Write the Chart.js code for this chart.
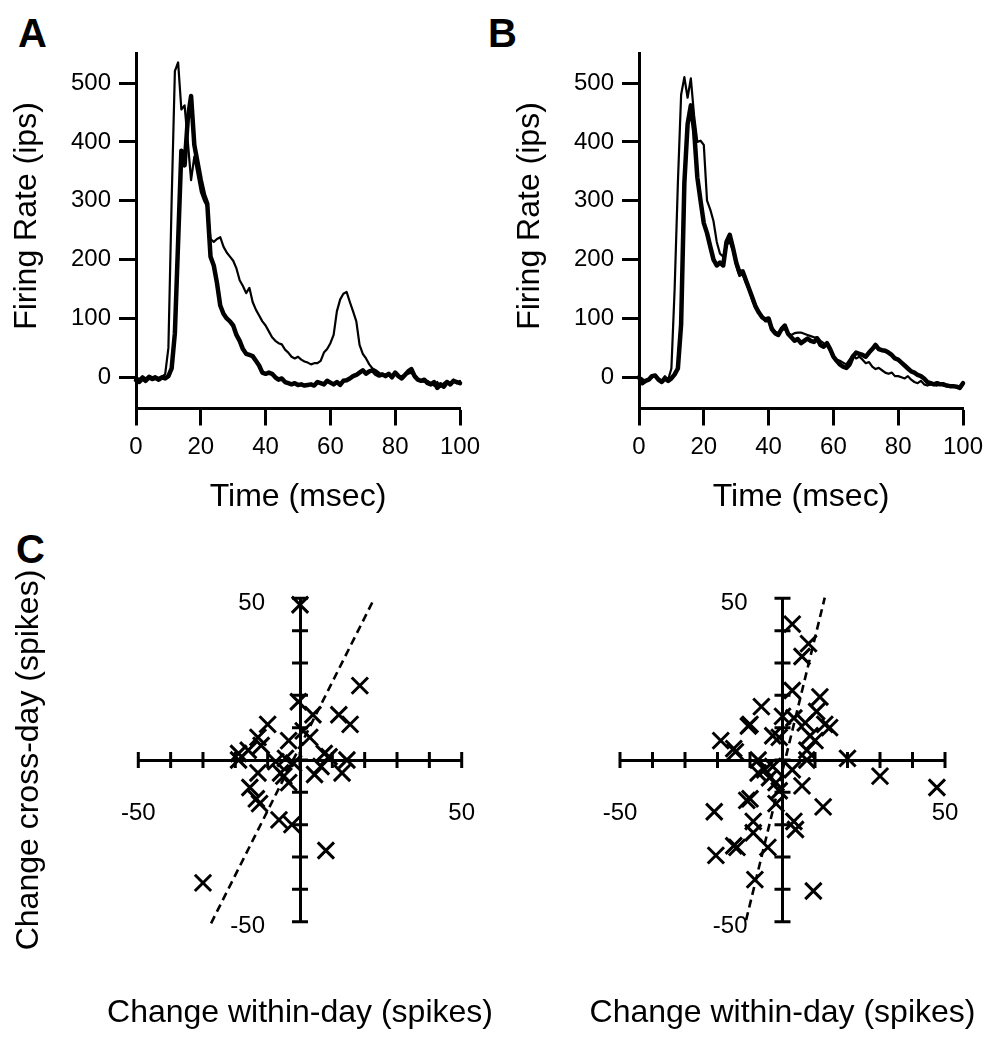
<!DOCTYPE html>
<html>
<head>
<meta charset="utf-8">
<script src="https://cdn.jsdelivr.net/npm/chart.js@4.4.1/dist/chart.umd.min.js"></script>
<style>
  body { margin: 0; background: #fff; }
  #fig { position: relative; width: 1000px; height: 1050px; font-family: 'Liberation Sans', Arial, sans-serif; }
  canvas { position: absolute; }
  .panel { position: absolute; font-weight: bold; font-size: 40px; line-height: 1; color: #000; }
</style>
</head>
<body>
<div id="fig">
  <div class="panel" style="left:18px;top:13px">A</div>
  <div class="panel" style="left:488px;top:13px">B</div>
  <div class="panel" style="left:16px;top:529px">C</div>
  <canvas id="chartA" width="495" height="520" style="left:0;top:0"></canvas>
  <canvas id="chartB" width="495" height="520" style="left:503px;top:0"></canvas>
  <canvas id="chartC1" width="520" height="490" style="left:0;top:560px"></canvas>
  <canvas id="chartC2" width="500" height="490" style="left:500px;top:560px"></canvas>
</div>
<script>
// time base (msec) shared by A and B
const timeMs = [0,1,2,3,4,5,6,7,8,9,10,11,12,13,14,15,16,17,18,19,20,21,22,23,24,25,26,27,28,29,
  30,31,32,33,34,35,36,37,38,39,40,41,42,43,44,45,46,47,48,49,50,51,52,53,54,55,56,57,58,59,
  60,61,62,63,64,65,66,67,68,69,70,71,72,73,74,75,76,77,78,79,80,81,82,83,84,85,86,87,88,89,
  90,91,92,93,94,95,96,97,98,99,100,101];

// panel A firing rates (ips)
const thinA = [0,-3,2,-2,3,0,2,-1,1,5,50,300,520,535,455,462,400,335,375,345,
  315,300,290,235,230,235,238,222,212,205,198,185,165,155,143,152,128,115,105,95,
  88,78,68,62,58,56,47,42,35,32,35,30,27,25,22,24,24,28,42,48,
  58,72,112,132,142,145,128,112,95,55,40,32,22,15,12,8,2,5,3,2,
  6,1,2,4,6,8,0,-3,-6,-8,-6,-10,-14,-8,-16,-10,-6,-12,-4,-10,-6,-10];
const thickA = [-5,-8,-2,-6,0,-3,-1,-4,0,-2,2,15,75,230,385,360,440,478,395,365,
  335,310,295,205,190,160,122,108,100,95,88,72,62,48,40,38,36,28,20,8,
  6,8,6,0,-4,-2,-8,-10,-12,-10,-13,-12,-14,-13,-12,-14,-8,-10,-12,-6,
  -9,-12,-8,-13,-6,-5,-2,2,4,8,12,6,10,12,6,3,5,2,6,0,
  8,2,-2,4,10,14,2,-4,-6,-4,-10,-12,-8,-18,-12,-16,-8,-12,-6,-8,-10,-8];

// panel B firing rates (ips)
const thinB = [0,-2,-8,-3,0,4,-2,-6,2,-4,15,150,330,480,510,475,508,445,400,402,
  395,300,285,265,230,210,205,225,230,215,190,172,175,160,148,130,118,112,104,95,
  95,85,78,75,80,82,75,72,75,76,76,74,72,70,68,68,62,58,55,45,
  35,30,28,25,22,30,38,32,35,30,24,26,18,14,16,12,8,6,8,2,
  2,0,-2,2,-4,-8,-10,-6,-12,-14,-12,-13,-14,-12,-14,-15,-14,-16,-15,-18,-10,0];
const thickB = [0,-10,-6,-4,2,3,-4,-8,-2,-6,-2,5,15,90,330,430,462,420,340,300,
  262,245,222,200,190,195,190,230,242,220,195,178,180,165,150,135,120,110,102,98,
  100,82,75,72,82,88,74,68,62,65,58,62,66,62,60,66,55,52,58,48,
  35,28,22,18,16,22,35,42,40,38,35,42,48,55,48,46,45,42,38,32,
  30,25,20,15,10,8,4,2,-2,-8,-10,-12,-10,-12,-12,-14,-15,-15,-16,-18,-10,0];

const rateTicks = [0, 100, 200, 300, 400, 500];
const timeTicks = [0, 20, 40, 60, 80, 100];

// panel C: change within-day (x) vs change cross-day (y), spikes
const leftX = [0,18.5,-0.5,4,12,15.5,-10,1,3,-13,-12,-3.5,-19,-19,-16,7.5,9,14.5,-7.5,-4.5,
  -2,4.5,13,-13,-5,-3.5,-15.5,-13.5,-12.5,-6.5,-2.5,8,-30,6.5,-6];
const leftY = [48,23,18,14,14,11,11,9,7,7,4.5,6,2,0,3,2,1,0,-0.5,0.5,
  -1,-4.5,-4,-4,-5,-7,-8.5,-12,-13.5,-18.5,-20,-28,-38,-2,-4];
const rightX = [0,3,8,6,3,11.5,-6.5,-10.5,-10,-19,-15,-14.5,-3,0,3.5,7,10.5,13,14.5,8.5,
  10,7.5,-1,20,30,47.5,-7.5,7.5,-7.5,-4,-2,-1,3,6,-11,-10,-21,12.5,-2,-9,
  3.5,4,-9,-4.5,-15,-14,-20.5,-8.5,9.5,-5.5,-3];
const rightY = [55,42,36,32,21.5,19.5,16.5,10.5,11,6,3.5,2.5,7.5,13.5,13,11.5,15,11,10,7.5,
  6,3,7,0.5,-5,-8.5,0,0,-4,-5.5,-7,-9.5,-3,-8,-12.5,-12,-16,-14.5,-13.5,-19,
  -19,-21.5,-22.5,-27,-26.5,-27,-29.5,-37,-40.5,-3,-2];
// dashed regression lines (end points)
const fitLeftX = [-27.5, 23];
const fitLeftY = [-50.5, 50];
const fitRightX = [-11.2, 13];
const fitRightY = [-49.5, 50.2];

const changeTicks = [-50, -40, -30, -20, -10, 0, 10, 20, 30, 40, 50];
const changeLabels = [-50, 50];

const FONT = "'Liberation Sans', Arial, Helvetica, sans-serif";
Chart.defaults.font.family = FONT;
Chart.defaults.color = '#000';

function pts(xs, ys) {
  return xs.map((x, i) => ({ x: x, y: ys[i] }));
}

// axis titles drawn at fixed offsets (x title centred on the plot, y title rotated)
const axisTitles = {
  id: 'axisTitles',
  afterDraw(chart, args, opts) {
    const { ctx, chartArea } = chart;
    ctx.save();
    ctx.fillStyle = '#000';
    ctx.font = '32px ' + FONT;
    ctx.textAlign = 'center';
    ctx.textBaseline = 'middle';
    if (opts.xText) {
      ctx.fillText(opts.xText, (chartArea.left + chartArea.right) / 2, opts.xTop);
    }
    if (opts.yText) {
      const mid = opts.yMid != null ? opts.yMid : (chartArea.top + chartArea.bottom) / 2;
      ctx.translate(opts.yLeft, mid);
      ctx.rotate(-Math.PI / 2);
      ctx.fillText(opts.yText, 0, 0);
    }
    ctx.restore();
  },
};

function makeRatePanel(id, thin, thick) {
  return new Chart(document.getElementById(id), {
    type: 'line',
    data: {
      datasets: [
        { data: pts(timeMs, thin), borderColor: '#000', borderWidth: 2.2, clip: false },
        { data: pts(timeMs, thick), borderColor: '#000', borderWidth: 4.5, clip: false },
      ],
    },
    options: {
      responsive: false,
      animation: false,
      layout: { padding: { left: 7, top: 53, right: 35, bottom: 0 } },
      elements: {
        point: { radius: 0 },
        line: { tension: 0, borderJoinStyle: 'round', borderCapStyle: 'round' },
      },
      plugins: {
        legend: { display: false },
        tooltip: { enabled: false },
        axisTitles: { yText: 'Firing Rate (ips)', yLeft: 27, yMid: 216 },
      },
      scales: {
        x: {
          type: 'linear',
          min: 0,
          max: 100,
          afterBuildTicks: (s) => { s.ticks = timeTicks.map((v) => ({ value: v })); },
          afterFit: (s) => { s.height = 111.5; },
          grid: { drawOnChartArea: false, tickLength: 17, tickWidth: 3, tickColor: '#000' },
          border: { color: '#000', width: 3 },
          ticks: { padding: 7, font: { size: 24 }, maxRotation: 0, autoSkip: false },
          title: { display: true, text: 'Time (msec)', font: { size: 32 }, padding: 4 },
        },
        y: {
          min: -53,
          max: 551,
          afterBuildTicks: (s) => { s.ticks = rateTicks.map((v) => ({ value: v })); },
          afterFit: (s) => { s.width = 129; },
          grid: { drawOnChartArea: false, tickLength: 17, tickWidth: 3, tickColor: '#000' },
          border: { color: '#000', width: 3 },
          ticks: { padding: 8, font: { size: 24 }, autoSkip: false },
        },
      },
    },
    plugins: [axisTitles],
  });
}

// ticks that cross the centred axes, plus the end labels of the vertical axis
const crossTicks = {
  id: 'crossTicks',
  beforeDatasetsDraw(chart) {
    const { ctx, scales: { x, y } } = chart;
    const x0 = x.getPixelForValue(0);
    const y0 = y.getPixelForValue(0);
    ctx.save();
    ctx.strokeStyle = '#000';
    ctx.lineWidth = 3;
    ctx.beginPath();
    x.ticks.forEach((t) => {
      const px = x.getPixelForValue(t.value);
      ctx.moveTo(px, y0 - 8);
      ctx.lineTo(px, y0 + 8);
    });
    y.ticks.forEach((t) => {
      const py = y.getPixelForValue(t.value);
      ctx.moveTo(x0 - 8, py);
      ctx.lineTo(x0 + 8, py);
    });
    ctx.stroke();
    ctx.fillStyle = '#000';
    ctx.font = '24px ' + FONT;
    ctx.textAlign = 'right';
    ctx.textBaseline = 'middle';
    changeLabels.forEach((v) => {
      ctx.fillText(String(v), x0 - 35, y.getPixelForValue(v) + 5);
    });
    ctx.restore();
  },
};

function makeChangePanel(id, xs, ys, fx, fy, pad, yTitle) {
  return new Chart(document.getElementById(id), {
    type: 'scatter',
    data: {
      datasets: [
        {
          data: pts(xs, ys),
          pointStyle: 'crossRot',
          pointRadius: 11.5,
          borderColor: '#000',
          borderWidth: 3,
          clip: false,
        },
        {
          type: 'line',
          data: pts(fx, fy),
          borderColor: '#000',
          borderWidth: 2.6,
          borderDash: [8, 5],
          pointRadius: 0,
          clip: false,
        },
      ],
    },
    options: {
      responsive: false,
      animation: false,
      layout: { padding: pad },
      plugins: {
        legend: { display: false },
        tooltip: { enabled: false },
        axisTitles: { xText: 'Change within-day (spikes)', xTop: 453, yText: yTitle, yLeft: 29 },
      },
      scales: {
        x: {
          type: 'linear',
          min: -50,
          max: 50,
          position: { y: 0 },
          afterBuildTicks: (s) => { s.ticks = changeTicks.map((v) => ({ value: v })); },
          grid: { display: false, drawTicks: false },
          border: { color: '#000', width: 3 },
          ticks: {
            padding: 39,
            font: { size: 24 },
            maxRotation: 0,
            autoSkip: false,
            callback: (v) => (changeLabels.includes(v) ? String(v) : ''),
          },
        },
        y: {
          min: -50,
          max: 50,
          position: { x: 0 },
          afterBuildTicks: (s) => { s.ticks = changeTicks.map((v) => ({ value: v })); },
          grid: { display: false, drawTicks: false },
          border: { color: '#000', width: 3 },
          ticks: { display: false },
        },
      },
    },
    plugins: [crossTicks, axisTitles],
  });
}

makeRatePanel('chartA', thinA, thickA);
makeRatePanel('chartB', thinB, thickB);
makeChangePanel('chartC1', leftX, leftY, fitLeftX, fitLeftY,
  { left: 138.3, right: 58.3, top: 38.3, bottom: 128.3 }, 'Change cross-day (spikes)');
makeChangePanel('chartC2', rightX, rightY, fitRightX, fitRightY,
  { left: 120, right: 55, top: 38.3, bottom: 128.3 }, null);
</script>
</body>
</html>
